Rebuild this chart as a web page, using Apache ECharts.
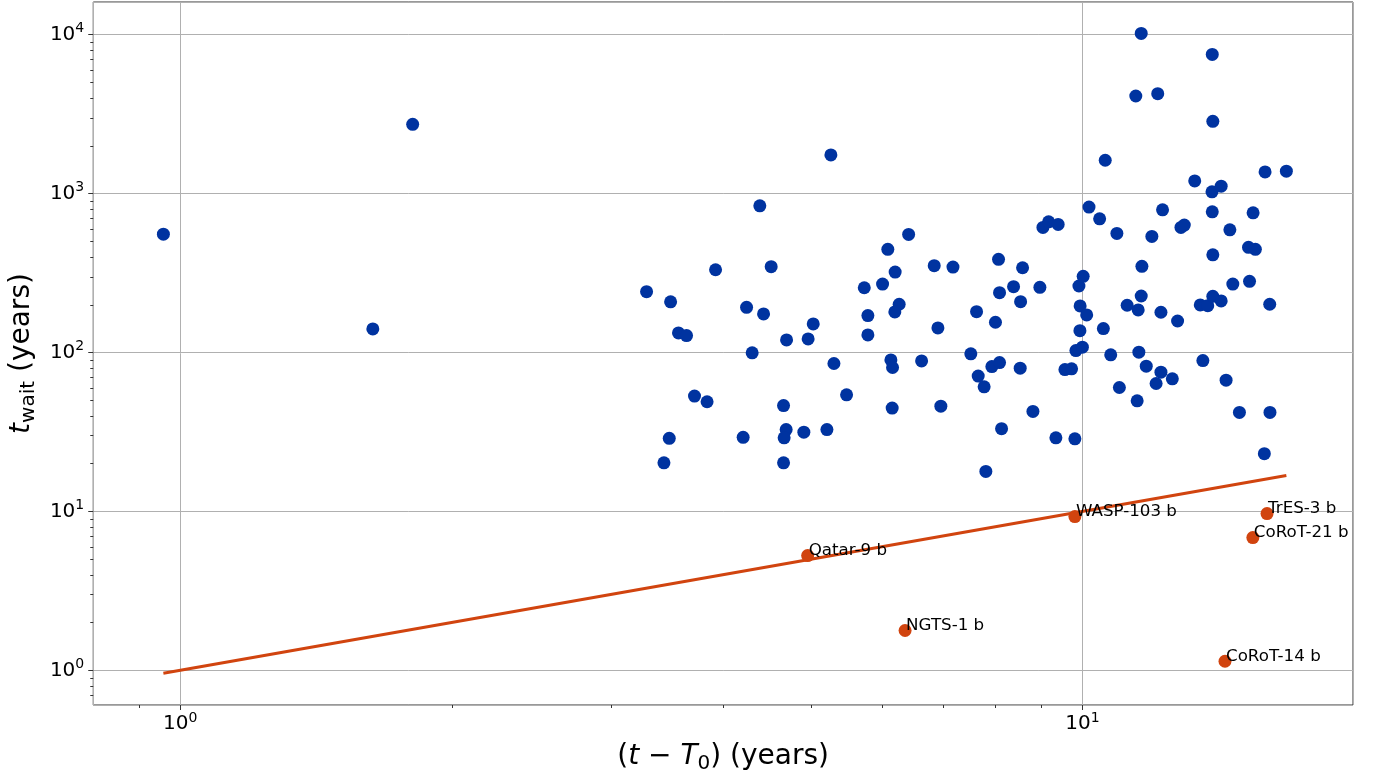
<!DOCTYPE html>
<html><head><meta charset="utf-8">
<script src="https://cdn.jsdelivr.net/npm/echarts@6/dist/echarts.min.js"></script>
<style>html,body{margin:0;padding:0;background:#fff}#c{width:1375px;height:779px}</style>
</head><body><div id="c"></div>
<script>
// Blue population: (t - T0) in years and t_wait in years
const blueT = [0.958,1.635,1.810,5.263,4.390,3.921,4.519,5.731,3.288,3.496,
  4.244,4.432,5.784,5.031,3.567,3.641,4.700,4.966,5.784,4.305,
  5.304,3.716,3.837,5.478,4.664,3.484,4.207,4.695,4.671,4.912,
  5.210,3.437,4.664,6.418,6.086,6.201,6.851,7.187,6.005,6.265,
  6.196,6.916,6.134,6.160,6.634,6.154,6.968,7.633,8.010,8.073,
  8.094,8.389,8.584,8.541,8.972,9.042,9.174,9.400,7.522,7.665,
  7.782,7.937,8.094,8.532,8.814,8.136,7.816,9.346,9.810,9.564,
  9.728,9.912,9.942,9.937,9.836,10.00,10.02,10.11,11.62,13.93,
  11.46,12.12,13.95,10.60,13.32,15.94,16.83,13.92,14.25,10.17,
  10.45,10.92,11.94,12.27,12.86,12.97,13.93,14.57,15.46,15.28,
  15.55,13.95,11.64,14.68,15.32,11.21,11.62,11.53,12.22,12.75,
  13.51,13.77,13.95,14.25,16.13,10.55,10.75,11.55,11.77,12.22,
  12.07,12.58,13.60,14.43,10.99,11.50,14.93,16.14,15.91];
const blueWait = [554,140.5,2722,1746,835,331,346,255,241,208,
  192,174.6,170.3,151,132.6,127.5,119.8,121.6,128.8,99.3,
  85.1,53.1,48.9,54.1,46.3,28.8,29.2,32.7,29.0,31.5,
  32.7,20.2,20.2,552,444.6,320,351,344,269,200.8,
  179.6,142.5,89.7,80.3,88.4,44.6,45.9,180.4,154.7,384.8,
  237.4,259,340.7,208.4,256.7,611,662.7,638,97.9,70.9,
  60.7,81.4,86.3,79.6,42.5,33.1,17.84,29.0,28.6,78.0,
  78.8,261.6,195.9,137,102.6,107.8,301,172,10146,7487,
  4099,4242,2842,1617,1199,1366,1380,1023,1110,820,
  692,560,536.6,788,611,632,765.8,590,755,457.7,
  445,411,347.8,269,280,197.9,226.3,184.9,178.8,157.6,
  198.8,196.8,225.3,210.6,200.8,141.1,96.5,100.3,81.9,75.1,
  63.7,68.2,88.8,66.9,60.1,49.6,41.9,41.9,23.05];

// Highlighted planets
const redNames = ['Qatar-9 b','NGTS-1 b','WASP-103 b','TrES-3 b','CoRoT-21 b','CoRoT-14 b'];
const redT = [4.96,6.36,9.81,16.02,15.45,14.39];
const redWait = [5.27,1.78,9.27,9.68,6.84,1.14];

// Reference line t_wait = (t - T0) across the data range
const lineT = [0.958,16.83];
const lineWait = [0.958,16.83];

// Minor tick positions
const xMinorTicks = [0.9,2,3,4,5,6,7,8,9];
const yMinorTicks = [0.7,0.8,0.9,2,3,4,5,6,7,8,9,20,30,40,50,60,70,80,90,
  200,300,400,500,600,700,800,900,2000,3000,4000,5000,6000,7000,8000,9000];

const X_MIN = 0.801, X_MAX = 19.95, Y_MIN = 0.605, Y_MAX = 16000;
const BLUE = '#0033A0', RED = '#D1440F', FONT = 'DejaVu Sans';

function powLabel(v){
  const e = Math.round(Math.log10(v));
  if (Math.abs(Math.log10(v) - e) > 1e-6) return '';
  return '{b|10}{s|' + e + '}';
}
const tickRich = {
  b:{fontSize:20, fontFamily:FONT, color:'#000'},
  s:{fontSize:14, fontFamily:FONT, color:'#000', padding:[0,0,12,0]}
};

const chart = echarts.init(document.getElementById('c'), null, {renderer:'canvas'});
chart.setOption({
  animation:false,
  backgroundColor:'#fff',
  grid:{left:92, right:22, top:2, bottom:72, show:true, borderColor:'#333', borderWidth:1, backgroundColor:'transparent'},
  xAxis:{
    type:'log', logBase:10, min:X_MIN, max:X_MAX,
    axisLine:{show:false},
    axisTick:{show:true, inside:false, length:5, lineStyle:{color:'#333', width:1}},
    splitLine:{show:true, lineStyle:{color:'#b0b0b0', width:1}},
    axisLabel:{formatter:powLabel, rich:tickRich, margin:6, showMinLabel:false, showMaxLabel:false},
    name:'{p|(}{i|t}{p| − }{i|T}{s|0}{p|) (years)}',
    nameLocation:'middle', nameGap:35,
    nameTextStyle:{fontSize:28, fontFamily:FONT, color:'#000', rich:{
      p:{fontSize:28, fontFamily:FONT, color:'#000'},
      i:{fontSize:28, fontFamily:FONT, color:'#000', fontStyle:'italic'},
      s:{fontSize:20, fontFamily:FONT, color:'#000', padding:[14,0,0,0]}
    }}
  },
  yAxis:{
    type:'log', logBase:10, min:Y_MIN, max:Y_MAX,
    axisLine:{show:false},
    axisTick:{show:true, inside:false, length:5, lineStyle:{color:'#333', width:1}},
    splitLine:{show:true, lineStyle:{color:'#b0b0b0', width:1}},
    axisLabel:{formatter:powLabel, rich:tickRich, margin:9, showMinLabel:false, showMaxLabel:false},
    name:'{i|t}{s|wait}{p| (years)}',
    nameLocation:'middle', nameRotate:90, nameGap:43,
    nameTextStyle:{fontSize:28, fontFamily:FONT, color:'#000', rich:{
      p:{fontSize:28, fontFamily:FONT, color:'#000'},
      i:{fontSize:28, fontFamily:FONT, color:'#000', fontStyle:'italic'},
      s:{fontSize:20, fontFamily:FONT, color:'#000', padding:[14,0,0,0]}
    }}
  },
  series:[
    {
      type:'scatter', symbol:'circle', symbolSize:13,
      itemStyle:{color:BLUE, opacity:1},
      data: blueT.map((t,i)=>[t, blueWait[i]]),
      z:3
    },
    {
      type:'line', symbol:'none', lineStyle:{color:RED, width:3},
      data: lineT.map((t,i)=>[t, lineWait[i]]),
      z:4
    },
    {
      type:'scatter', symbol:'circle', symbolSize:13,
      itemStyle:{color:RED, opacity:1},
      data: redNames.map((n,i)=>({name:n, value:[redT[i], redWait[i]]})),
      label:{show:true, formatter:'{b}', position:'right', distance:0, offset:[-5.5,-5],
        fontSize:16.7, fontFamily:FONT, color:'#000', opacity:1},
      z:5
    },
    {
      type:'custom', coordinateSystem:'cartesian2d', silent:true, clip:false, z:6,
      data: xMinorTicks.map(v=>[v, Y_MIN]),
      renderItem:(params, api)=>{
        const p = api.coord([api.value(0), api.value(1)]);
        const x = Math.round(p[0]) + 0.5;
        return {type:'line', shape:{x1:x, y1:p[1], x2:x, y2:p[1]+3}, style:{stroke:'#333', lineWidth:1}};
      }
    },
    {
      type:'custom', coordinateSystem:'cartesian2d', silent:true, clip:false, z:6,
      data: yMinorTicks.map(v=>[X_MIN, v]),
      renderItem:(params, api)=>{
        const p = api.coord([api.value(0), api.value(1)]);
        const y = Math.round(p[1]) + 0.5;
        return {type:'line', shape:{x1:p[0]-3, y1:y, x2:p[0], y2:y}, style:{stroke:'#333', lineWidth:1}};
      }
    }
  ]
});
</script>
</body></html>
